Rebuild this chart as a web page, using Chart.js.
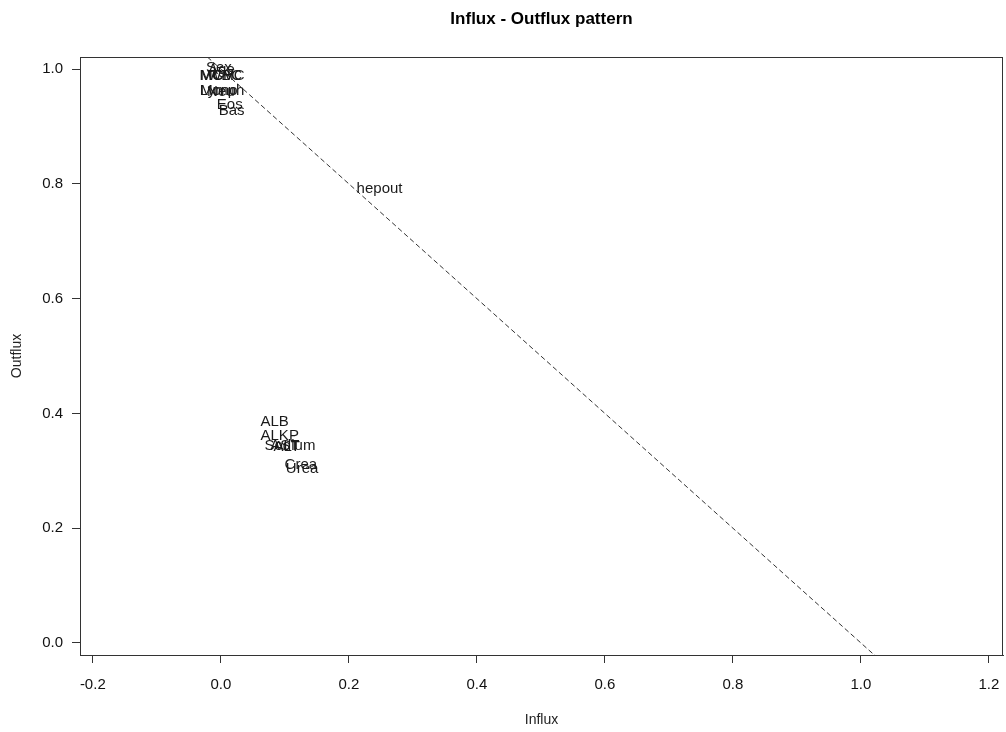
<!DOCTYPE html>
<html>
<head>
<meta charset="utf-8">
<script src="https://cdn.jsdelivr.net/npm/chart.js@4.4.1/dist/chart.umd.min.js"></script>
<style>
  html, body { margin: 0; padding: 0; background: #fff; }
  #wrap { width: 1006px; height: 732px; position: relative; }
</style>
</head>
<body>
<div id="wrap"><canvas id="c"></canvas></div>
<script>
// ---- data ----
const varNames = ["Sex","Age","MCV","MCHC","WBC","Lymph","Mono","Neu","Eos","Bas","hepout","ALB","ALKP","Sodium","AST","ALT","Crea","Urea"];
const influx  = [-0.003, 0.001, -0.006, 0.002, 0.006, 0.002, -0.003, 0.000, 0.014, 0.017, 0.248, 0.084, 0.092, 0.108, 0.100, 0.103, 0.125, 0.127];
const outflux = [1.002, 0.998, 0.988, 0.988, 0.988, 0.962, 0.962, 0.960, 0.937, 0.927, 0.791, 0.385, 0.361, 0.343, 0.343, 0.341, 0.310, 0.303];
const xTicks = [-0.2, 0.0, 0.2, 0.4, 0.6, 0.8, 1.0, 1.2];
const yTicks = [0.0, 0.2, 0.4, 0.6, 0.8, 1.0];
const diagX = [-0.3, 1.3];
const diagY = [1.3, -0.3];
const chartTitle = "Influx - Outflux pattern";
const xTitle = "Influx";
const yTitle = "Outflux";

const FONT = "'Liberation Sans', Arial, sans-serif";
const pts = varNames.map((n, i) => ({ x: influx[i], y: outflux[i], label: n }));

const decor = {
  id: 'decor',
  afterDatasetsDraw(chart) {
    const { ctx, chartArea: a, scales } = chart;
    ctx.save();
    // labels
    ctx.font = "15px " + FONT;
    ctx.fillStyle = "#1a1a1a";
    ctx.textAlign = "center";
    ctx.textBaseline = "middle";
    pts.forEach(p => {
      ctx.fillText(p.label, scales.x.getPixelForValue(p.x), scales.y.getPixelForValue(p.y));
    });
    // box
    ctx.strokeStyle = "#333";
    ctx.lineWidth = 1;
    ctx.strokeRect(a.left + 0.5, a.top + 0.5, a.right - a.left - 1, a.bottom - a.top);
    // title
    ctx.fillStyle = "#000";
    ctx.font = "bold 17px " + FONT;
    ctx.fillText(chartTitle, (a.left + a.right) / 2, 19);
    ctx.font = "14px " + FONT;
    ctx.fillStyle = "#222";
    ctx.fillText(xTitle, (a.left + a.right) / 2, 720);
    ctx.translate(17, (a.top + a.bottom) / 2);
    ctx.rotate(-Math.PI / 2);
    ctx.fillText(yTitle, 0, 0);
    ctx.restore();
  }
};

new Chart(document.getElementById('c'), {
  type: 'scatter',
  data: {
    datasets: [
      {
        data: pts,
        pointRadius: 0,
        showLine: false
      },
      {
        data: diagX.map((x, i) => ({ x, y: diagY[i] })),
        showLine: true,
        pointRadius: 0,
        borderColor: '#333',
        borderWidth: 1,
        borderDash: [5, 3],
        fill: false,
        clip: 0
      }
    ]
  },
  options: {
    responsive: true,
    maintainAspectRatio: false,
    animation: false,
    events: [],
    layout: { padding: { top: 57, right: 3, left: 0, bottom: 0 } },
    plugins: { legend: { display: false }, tooltip: { enabled: false }, title: { display: false } },
    scales: {
      x: {
        type: 'linear',
        min: -0.22, max: 1.222,
        afterBuildTicks(s) { s.ticks = xTicks.map(v => ({ value: v })); },
        afterFit(s) { s.height = 77; s.paddingLeft = 0; s.paddingRight = 0; },
        grid: { drawOnChartArea: false, drawTicks: true, tickLength: 8, color: '#333' },
        border: { display: true, color: '#333' },
        ticks: { font: { family: FONT, size: 15 }, color: '#111', padding: 13,
                 callback: v => v.toFixed(1) }
      },
      y: {
        type: 'linear',
        min: -0.021, max: 1.021,
        afterBuildTicks(s) { s.ticks = yTicks.map(v => ({ value: v })); },
        afterFit(s) { s.width = 80; s.paddingTop = 0; s.paddingBottom = 0; },
        grid: { drawOnChartArea: false, drawTicks: true, tickLength: 8, color: '#333' },
        border: { display: true, color: '#333' },
        ticks: { font: { family: FONT, size: 15 }, color: '#111', padding: 9,
                 callback: v => v.toFixed(1) }
      }
    }
  },
  plugins: [decor]
});
</script>
</body>
</html>
